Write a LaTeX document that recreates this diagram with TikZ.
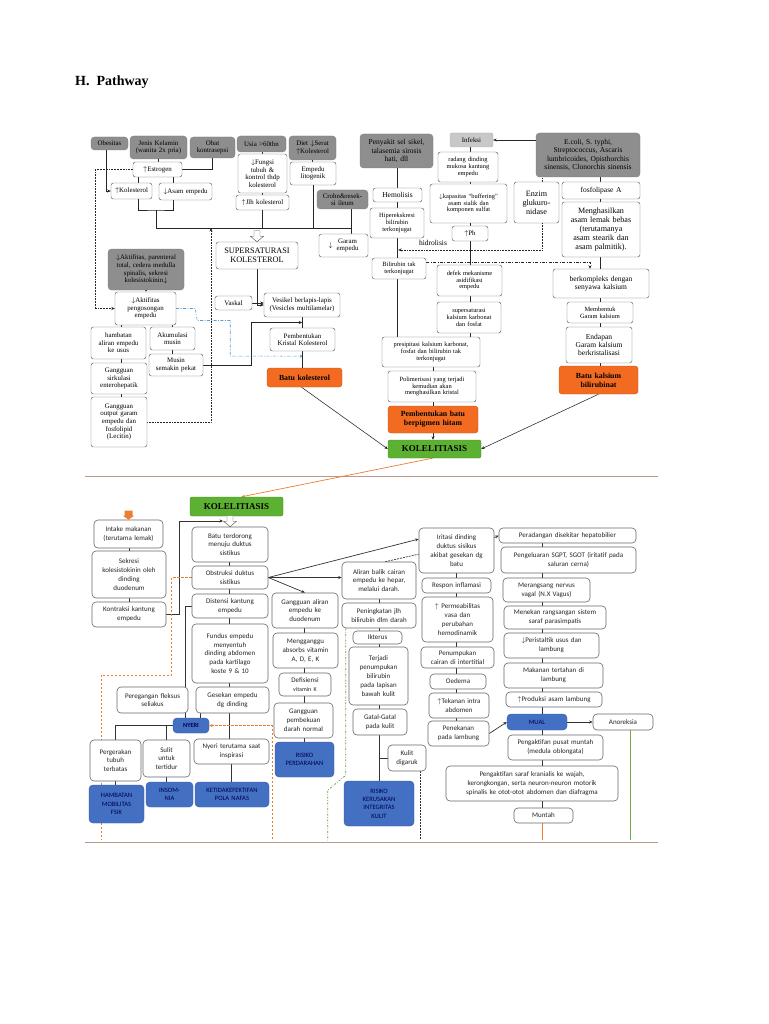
\documentclass[tikz,border=0pt]{standalone}
\usepackage{fontspec}
\setmainfont{Liberation Serif}
\newfontfamily\calib{Carlito}
\usetikzlibrary{arrows.meta,calc,backgrounds}
\definecolor{gfill}{HTML}{8E8E8E}
\definecolor{lgfill}{HTML}{C8C8C8}
\definecolor{orA}{HTML}{F26B21}
\definecolor{grA}{HTML}{5DB132}
\definecolor{blA}{HTML}{4470C4}
\definecolor{sepc}{HTML}{B89A8A}
\definecolor{dbl}{HTML}{5B9BD5}
\definecolor{ogl}{HTML}{ED7D31}
\definecolor{gnl}{HTML}{70AD47}
\newcommand\nb[7]{%
 \pgfmathsetmacro\nbW{#5-#3}\pgfmathsetmacro\nbH{#6-#4}%
 \pgfmathsetmacro\nbX{(#3+#5)/2}\pgfmathsetmacro\nbY{(#4+#6)/2}%
 \pgfmathsetmacro\nbT{#5-#3-2}%
 \node[#1, minimum width=\nbW pt, minimum height=\nbH pt, text width=\nbT pt] (#2) at (\nbX,\nbY) {#7};}
\newcommand\vc[3]{\draw[ln] (#2.south -| #1) -- (#3.north -| #1);}
\newcommand\vcb[3]{\draw[bl] (#2.south -| #1) -- (#3.north -| #1);}
\newcommand\lar[2]{\begin{tabular}{@{}c@{\hspace{4pt}}c@{}}#1&\begin{tabular}{@{}c@{}}#2\end{tabular}\end{tabular}}
\newcommand\hollow[1]{\draw[fill=white, draw=black!70, line width=0.4pt] ($(#1)+(-3,-11)$) -- ($(#1)+(3,-11)$) -- ($(#1)+(3,-5.5)$) -- ($(#1)+(6.5,-5.5)$) -- (#1) -- ($(#1)+(-6.5,-5.5)$) -- ($(#1)+(-3,-5.5)$) -- cycle;}
\tikzset{
 common/.style={align=center, inner sep=0pt},
 wb/.style={common, draw=black!60, fill=white, rounded corners=2.5pt, line width=0.45pt},
 wb2/.style={common, draw=black!60, fill=white, rounded corners=4pt, line width=0.6pt, text=black!85},
 gb/.style={common, fill=gfill, draw=gfill!85!black, line width=0.3pt, rounded corners=3.5pt},
 lg/.style={common, fill=lgfill, draw=lgfill!85!black, line width=0.3pt, rounded corners=2pt},
 ob/.style={common, fill=orA, draw=orA!80!black, line width=0.4pt, rounded corners=3pt},
 grn/.style={common, fill=grA, draw=grA!80!black, line width=0.4pt, rounded corners=2pt},
 bb/.style={common, fill=blA, draw=blA!80!black, line width=0.4pt, rounded corners=4pt, text=black!70!blue},
 tfs/.style={font=\fontsize{6.4}{6.9}\selectfont},
 tf/.style={font=\fontsize{6.9}{7.6}\selectfont},
 tfm/.style={font=\fontsize{7.5}{8.2}\selectfont},
 tfl/.style={font=\fontsize{8.1}{9}\selectfont},
 tfb/.style={font=\bfseries\fontsize{7.8}{9}\selectfont},
 tfk/.style={font=\bfseries\fontsize{9}{10}\selectfont},
 fss/.style={font=\fontsize{8.3}{9.4}\selectfont},
 bf/.style={font=\calib\fontsize{7}{8.8}\selectfont},
 bfs/.style={font=\calib\fontsize{6.6}{8.3}\selectfont},
 bfb/.style={font=\calib\bfseries\fontsize{6.3}{7}\selectfont},
 ln/.style={draw=black!85, line width=0.55pt},
 bl/.style={draw=black!80, line width=0.7pt},
 dotline/.style={ln, densely dotted, line width=0.6pt},
 blueline/.style={draw=dbl, line width=0.6pt, dash pattern=on 3pt off 1.5pt on 0.8pt off 1.5pt},
 ddline/.style={ln, dash pattern=on 3pt off 1.5pt on 0.8pt off 1.5pt},
 odash/.style={draw=ogl, line width=0.8pt, dash pattern=on 2.5pt off 1.5pt},
 oline/.style={draw=ogl, line width=0.7pt},
 gline/.style={draw=gnl, line width=0.6pt},
 gdashdot/.style={draw=gnl!90!black, line width=0.7pt, dash pattern=on 2pt off 1.5pt on 0.7pt off 1.5pt},
 bdash/.style={bl, dash pattern=on 2pt off 1pt},
 kdash/.style={bl, dash pattern=on 1.5pt off 1.5pt},
 sep/.style={draw=sepc, line width=1pt},
 >={Stealth[length=3.5pt,width=3pt]}
}
\begin{document}
\begin{tikzpicture}[x=1pt,y=-1pt]
\useasboundingbox (0,0) rectangle (768,1024);
\node[font=\bfseries\fontsize{14}{16}\selectfont, anchor=west, inner sep=0pt] (title) at (75,82) {H.\ \ Pathway};

% ---------------- TOP DIAGRAM ----------------
\nb{gb,tf}{obes}{91}{137}{128}{150}{Obesitas}
\nb{gb,tf}{jk}{130}{136}{187}{159}{Jenis Kelamin\\(wanita 2x pria)}
\nb{gb,tf}{obat}{190}{137}{235}{158}{Obat\\kontrasepsi}
\nb{wb,tf}{estr}{133}{162}{182}{177}{$\uparrow$Estrogen}
\nb{wb,tf}{kol}{111}{183}{152}{199}{$\uparrow$Kolesterol}
\nb{wb,tf}{asam}{159}{183}{212}{200}{$\downarrow$Asam empedu}
\nb{gb,tf}{usia}{237}{136}{286}{152}{Usia >60thn}
\nb{wb,tf}{fung}{238}{154}{287}{193}{$\downarrow$Fungsi\\tubuh \&\\kontrol thdp\\kolesterol}
\nb{wb,tf}{jlh}{236}{195}{289}{210}{$\uparrow$Jlh kolesterol}
\nb{gb,tf}{diet}{289}{136}{336}{160}{Diet $\downarrow$Serat\\$\uparrow$Kolesterol}
\nb{wb,tf}{emp}{290}{162}{336}{185}{Empedu\\litogenik}
\nb{gb,tf}{crohn}{317}{190}{368}{209}{Crohn\&resek-\\si ileum}
\nb{wb,tf}{garam}{319}{234}{368}{257}{\lar{$\downarrow$}{Garam\\empedu}}
\nb{wb,fss}{ss}{216}{242}{298}{269}{SUPERSATURASI\\KOLESTEROL}
\nb{gb,tf}{aktg}{108}{249}{184}{290}{$\downarrow$Aktifitas, parenteral\\total, cedera medulla\\spinalis, sekresi\\kolesistokinin$\downarrow$}
\nb{wb,tf}{aktp}{115}{292}{176}{325}{$\downarrow$Aktifitas\\pengosongan\\empedu}
\nb{wb,tf}{hamb}{91}{327}{146}{359}{hambatan\\aliran empedu\\ke usus}
\nb{wb,tf}{akum}{150}{327}{195}{350}{Akumulasi\\musin}
\nb{wb,tf}{musin}{149}{354}{203}{376}{Musin\\semakin pekat}
\nb{wb,tf}{gsir}{91}{363}{147}{394}{Gangguan\\sirkulasi\\enterohepatik}
\nb{wb,tf}{gout}{91}{397}{147}{447}{Gangguan\\output garam\\empedu dan\\fosfolipid\\(Lecitin)}
\nb{wb,tf}{vask}{215}{296}{252}{310}{Vaskal}
\nb{wb,tf}{ves}{264}{293}{340}{317}{Vesikel berlapis-lapis\\(Vesicles multilamelar)}
\nb{wb,tf}{pk}{270}{328}{335}{351}{Pembentukan\\Kristal Kolesterol}
\nb{ob,tfb}{bk}{267}{368}{342}{387}{Batu kolesterol}
\nb{gb,tfm}{peny}{360}{134}{433}{168}{Penyakit sel sikel,\\talasemia sirosis\\hati, dll}
\nb{wb,tfm}{hem}{373}{188}{422}{202}{Hemolisis}
\nb{wb,tfs}{hip}{370}{208}{424}{238}{Hiperekskresi\\bilirubin\\terkonjugat}
\nb{wb,tfs}{bil}{372}{258}{426}{279}{Bilirubin tak\\terkonjugat}
\node[tfm, inner sep=0pt] (hid) at (433,243) {hidrolisis};
\nb{lg,tf}{inf}{450}{133}{493}{147}{Infeksi}
\nb{wb,tfs}{rad}{438}{152}{498}{182}{radang dinding\\mukosa kantung\\empedu}
\nb{wb,tfs}{kap}{430}{184}{507}{223}{$\downarrow$kapasitas ``buffering''\\asam sialik dan\\komponen sulfat}
\nb{wb,tf}{ph}{452}{226}{488}{241}{$\uparrow$Ph}
\nb{gb,tfm}{eco}{536}{133}{640}{177}{E.coli, S. typhi,\\Streptococcus, Ascaris\\lumbricoides, Opisthorchis\\sinensis, Clonorchis sinensis}
\nb{wb,tfl}{enz}{514}{182}{559}{223}{Enzim\\glukuro-\\nidase}
\nb{wb,tfm}{fos}{562}{182}{640}{199}{fosfolipase A}
\nb{wb,tfl}{meng}{562}{202}{640}{257}{Menghasilkan\\asam lemak bebas\\(terutamanya\\asam stearik dan\\asam palmitik).}
\nb{wb,tfs}{def}{437}{265}{502}{296}{defek mekanisme\\asidifikasi\\empedu}
\nb{wb,tfs}{ssk}{437}{302}{501}{333}{supersaturasi\\kalsium karbonat\\dan fosfat}
\nb{wb,tfm}{berk}{553}{269}{649}{298}{berkompleks dengan\\senyawa kalsium}
\nb{wb,tfs}{memb}{567}{302}{633}{323}{Membentuk\\Garam kalsium}
\nb{wb,tfm}{endap}{566}{327}{632}{363}{Endapan\\Garam kalsium\\berkristalisasi}
\nb{ob,tfb}{bkal}{559}{366}{638}{394}{Batu kalsium\\bilirubinat}
\nb{wb,tfs}{pres}{382}{337}{480}{367}{presipitasi kalsium karbonat,\\fosfat dan bilirubin tak\\terkonjugat}
\nb{wb,tfs}{poly}{388}{371}{476}{402}{Polimerisasi yang terjadi\\kemudian akan\\menghasilkan kristal}
\nb{ob,tfb}{pbh}{388}{406}{478}{433}{Pembentukan batu\\berpigmen hitam}
\nb{grn,tfk}{kolA}{388}{440}{481}{458}{KOLELITIASIS}

% ---------------- BOTTOM DIAGRAM ----------------
\nb{grn,tfk}{kolB}{190}{497}{283}{516}{KOLELITIASIS}
\nb{wb2,bf}{intk}{94}{520}{163}{548}{Intake makanan\\(terutama lemak)}
\nb{wb2,bf}{sek}{92}{551}{166}{598}{Sekresi\\kolesistokinin oleh\\dinding\\duodenum}
\nb{wb2,bf}{kon}{92}{602}{166}{627}{Kontraksi kantung\\empedu}
\nb{wb2,bf}{batu}{192}{527}{268}{562}{Batu terdorong\\menuju duktus\\sistikus}
\nb{wb2,bf}{obs}{192}{566}{268}{589}{Obstruksi duktus\\sistikus}
\nb{wb2,bf}{dis}{192}{594}{268}{618}{Distensi kantung\\empedu}
\nb{wb2,bf}{fun}{192}{624}{268}{683}{Fundus empedu\\menyentuh\\dinding abdomen\\pada kartilago\\koste 9 \& 10}
\nb{wb2,bf}{galir}{272}{593}{338}{628}{Gangguan aliran\\empedu ke\\duodenum}
\nb{wb2,bf}{mgg}{273}{633}{338}{668}{Mengganggu\\absorbs vitamin\\A, D, E, K}
\nb{wb2,bf}{dfs}{279}{673}{331}{696}{Defisiensi\\{\fontsize{6}{7.5}\selectfont vitamin K}}
\nb{wb2,bf}{gpb}{274}{703}{333}{738}{Gangguan\\pembekuan\\darah normal}
\nb{bb,bfs}{rper}{275}{742}{334}{777}{RISIKO\\PERDARAHAN}
\nb{wb2,bf}{ali}{342}{562}{416}{599}{Aliran balik cairan\\empedu ke hepar,\\melalui darah.}
\nb{wb2,bf}{ping}{342}{603}{416}{628}{Peningkatan jlh\\bilirubin dlm darah}
\nb{wb2,bf}{ikt}{353}{631}{402}{644}{Ikterus}
\nb{wb2,bf}{terj}{349}{647}{408}{705}{Terjadi\\penumpukan\\bilirubin\\pada lapisan\\bawah kulit}
\nb{wb2,bf}{gatal}{353}{709}{407}{735}{Gatal-Gatal\\pada kulit}
\nb{wb2,bf}{kulit}{388}{745}{426}{771}{Kulit\\digaruk}
\nb{bb,bfs}{rkul}{344}{781}{414}{826}{RISIKO\\KERUSAKAN\\INTEGRITAS\\KULIT}
\nb{wb2,bf}{iri}{419}{528}{494}{573}{Iritasi dinding\\duktus sisikus\\akibat gesekan dg\\batu}
\nb{wb2,bf}{resp}{422}{578}{491}{593}{Respon inflamasi}
\nb{wb2,bf}{perm}{422}{597}{493}{642}{$\uparrow$ Permeabilitas\\vasa dan\\perubahan\\hemodinamik}
\nb{wb2,bf}{pen}{421}{647}{494}{668}{Penumpukan\\cairan di intertitial}
\nb{wb2,bf}{oed}{430}{674}{486}{689}{Oedema}
\nb{wb2,bf}{tek}{429}{693}{489}{718}{$\uparrow$Tekanan intra\\abdomen}
\nb{wb2,bf}{pnk}{428}{721}{489}{746}{Penekanan\\pada lambung}
\nb{wb2,bf}{per}{499}{528}{636}{543}{Peradangan disekitar hepatobilier}
\nb{wb2,bf}{pgl}{501}{547}{636}{573}{Pengeluaran SGPT, SGOT (iritatif pada\\saluran cerna)}
\nb{wb2,bf}{mer}{503}{578}{590}{602}{Merangsang nervus\\vagal (N.X Vagus)}
\nb{wb2,bf}{mnk}{504}{606}{606}{629}{Menekan rangsangan sistem\\saraf parasimpatis}
\nb{wb2,bf}{pers}{504}{633}{599}{658}{$\downarrow$Peristaltik usus dan\\lambung}
\nb{wb2,bf}{mak}{504}{663}{603}{688}{Makanan tertahan di\\lambung}
\nb{wb2,bf}{prod}{506}{692}{602}{707}{$\uparrow$Produksi asam lambung}
\nb{bb,bfs}{mual}{507}{714}{567}{730}{MUAL}
\nb{wb2,bf}{ano}{593}{714}{653}{730}{Anoreksia}
\nb{wb2,bf}{pus}{508}{735}{603}{760}{Pengaktifan pusat muntah\\(medula oblongata)}
\nb{wb2,bf}{sar}{446}{766}{618}{801}{Pengaktifan saraf kranialis ke wajah,\\kerongkongan, serta neuron-neuron motorik\\spinalis ke otot-otot abdomen dan diafragma}
\nb{wb2,bf}{mun}{514}{808}{573}{823}{Muntah}
\nb{wb2,bf}{ges}{196}{687}{269}{713}{Gesekan empedu\\dg dinding}
\nb{wb2,bf}{pere}{117}{687}{188}{713}{Peregangan fleksus\\seliakus}
\nb{bb,bfb}{nyeri}{173}{718}{209}{733}{NYERI}
\nb{wb2,bf}{perg}{90}{740}{141}{781}{Pergerakan\\tubuh\\terbatas}
\nb{wb2,bf}{sul}{143}{740}{190}{777}{Sulit\\untuk\\tertidur}
\nb{wb2,bf}{nins}{194}{739}{269}{764}{Nyeri terutama saat\\inspirasi}
\nb{bb,bfs}{ham}{89}{785}{144}{823}{HAMBATAN\\MOBILITAS\\FSIK}
\nb{bb,bfs}{ins}{146}{782}{193}{807}{INSOM-\\NIA}
\nb{bb,bfs}{ket}{195}{782}{269}{807}{KETIDAKEFEKTIFAN\\POLA NAFAS}

% ---------------- CONNECTORS ----------------
\begin{pgfonlayer}{background}
\fill[white] (0,0) rectangle (768,1024);
\coordinate (xA) at (542,0);
\coordinate (xB) at (456,0);
\coordinate (xC) at (379,0);
\coordinate (xD) at (304,0);
\coordinate (xE) at (229,0);
\coordinate (xF) at (129,0);
\coordinate (xG) at (470,0);
\coordinate (xH) at (397,0);
\coordinate (xI) at (600,0);
\coordinate (xJ) at (302,0);
\coordinate (xK) at (262,0);
\coordinate (xL) at (121,0);
\coordinate (xM) at (172,0);
\coordinate (xO) at (433,0);
\coordinate (d1) at (95,0);
\coordinate (j1) at (156,210);
\coordinate (m1) at (156,228);
\coordinate (m2) at (351,228);
\coordinate (m3) at (211,228);
\coordinate (ob1) at (272,840);
\coordinate (ob2) at (101,840);
\coordinate (gb) at (630,840);
\coordinate (ha) at (223,521);
\coordinate (sa) at (85,476);
\coordinate (sb) at (658,476);
\coordinate (sc) at (85,842);
\coordinate (sd) at (658,842);
\draw[sep] (sa) -- (sb);
\draw[sep] (sc) -- (sd);

% top
\draw[ln,->] ([xshift=-3pt]obes.south) |- (kol.west);
\draw[ln] (jk.south) -- (jk.south |- estr.north);
\draw[ln] (obat.south) |- (estr.east);
\draw[ln] ([xshift=-19pt]estr.south) -- ([xshift=-19pt]estr.south |- kol.north);
\draw[ln] ([xshift=16pt]estr.south) -- ([xshift=16pt]estr.south |- asam.north);
\draw[ln] ([xshift=6.5pt]kol.south) |- (j1) -| ([xshift=-12.5pt]asam.south);
\draw[ln] (j1) -- (m1) -- (m2);
\vc{xK}{usia}{fung}
\vc{xK}{fung}{jlh}
\draw[ln] (jlh.south -| xK) -- (m1 -| xK);
\draw[ln] (diet.south) -- (diet.south |- emp.north);
\draw[ln] (emp.south) -- (emp.south |- m1);
\draw[ln] (crohn.south -| m2) -- (garam.north -| m2);
\draw[dotline,->] (estr.west) -- (estr.west -| d1) |- (aktp.west);
\draw[ln,->] (aktg.south) -- (aktg.south |- aktp.north);
\vc{xL}{aktp}{hamb}
\vc{xL}{hamb}{gsir}
\vc{xL}{gsir}{gout}
\vc{xM}{aktp}{akum}
\vc{xM}{akum}{musin}
\coordinate (vp) at ($(ves.south)!0.5!(pk.north)$);
\draw[ln,->] (musin.east) -- ++(48,0) |- (vp);
\coordinate (pb) at ($(pk.south)!0.3!(bk.north)$);
\draw[blueline,->] (aktp.east) -- ++(19,0) -- ++(2,12) -- ++(33,0) |- (pb);
\draw[dotline,->] (gout.east) -| (m3);
\draw[ln,->] (ss.south) |- (ves.west);
\draw[ln,->] (vask.east) -- (vask.east -| ves.west);
\vc{xJ}{ves}{pk}
\vc{xJ}{pk}{bk}
\draw[ln,->] ([xshift=-3pt]bk.south) -- (kolA.west);
\vc{xH}{peny}{hem}
\vc{xH}{hem}{hip}
\vc{xH}{hip}{bil}
\vc{xH}{bil}{pres}
\draw[ln,->] (eco.west |- inf.east) -- (inf.east);
\vc{xG}{inf}{rad}
\vc{xG}{rad}{kap}
\vc{xG}{kap}{ph}
\vc{xG}{ph}{def}
\vc{xG}{def}{ssk}
\vc{xG}{ssk}{pres}
\draw[dotline] ([xshift=5.5pt]enz.north) -- ([xshift=5.5pt]enz.north |- eco.south);
\coordinate (hb) at ($(hip.south)!0.6!(bil.north)$);
\draw[dotline,->] ([xshift=5.5pt]enz.south) |- (hb);
\draw[ddline,->] ([yshift=6.5pt]bil.east) -| ([xshift=-11pt]berk.north);
\vc{xI}{eco}{fos}
\vc{xI}{fos}{meng}
\vc{xI}{meng}{berk}
\vc{xI}{berk}{memb}
\vc{xI}{memb}{endap}
\vc{xI}{endap}{bkal}
\draw[ln,->] (bkal.south) -- (kolA.east);
\vc{xO}{pres}{poly}
\vc{xO}{poly}{pbh}
\draw[ln,->] (pbh.south -| xO) -- (kolA.north -| xO);
\draw[oline,->] ([xshift=-2pt]kolA.south) -- ([xshift=5pt]kolB.north);

% bottom
\vcb{xF}{intk}{sek}
\vcb{xF}{sek}{kon}
\draw[bl,line width=1pt,->] (kon.east) -- ++(13,0) |- (ha);
\vcb{xE}{batu}{obs}
\vcb{xE}{obs}{dis}
\vcb{xE}{dis}{fun}
\vcb{xE}{fun}{ges}
\vcb{xE}{ges}{nins}
\draw[bl] ([xshift=5pt]ges.south west) -- ([xshift=5pt]ges.south west |- nyeri.north);
\draw[bl] (dis.west) -| ([xshift=-3pt]pere.north east);
\draw[bl] ([xshift=-3pt]pere.south east) -- ([xshift=-3pt]pere.south east |- nyeri.north);
\draw[bl] (nyeri.west) -| (perg.north);
\draw[bl] (sul.north) -- (sul.north |- nyeri.west);
\draw[bl] (perg.south) -- (perg.south |- ham.north);
\draw[bl] (sul.south) -- (sul.south |- ins.north);
\draw[bl] (nins.south) -- (nins.south |- ket.north);
\draw[odash,<-] (nyeri.east) -| (ob1);
\draw[odash] (obs.west) -- ++(-20,0) -- ++(0,97.5) -| (ob2);
\draw[bl,->] (obs.east) -- (galir.north);
\draw[bl,->] (obs.east) -- (obs.east -| ali.west);
\draw[bl,->] (obs.east) -- ($(iri.north west)!0.25!(iri.south west)$);
\draw[bdash] ([xshift=-31pt]ali.north east) -- ($(iri.north west)!0.58!(iri.south west)$);
\draw[bdash,->] ($(iri.north east)!0.22!(iri.south east)$) -- (per.west);
\vcb{xA}{per}{pgl}
\vcb{xA}{pgl}{mer}
\vcb{xA}{mer}{mnk}
\vcb{xA}{mnk}{pers}
\vcb{xA}{pers}{mak}
\vcb{xA}{mak}{prod}
\vcb{xA}{prod}{mual}
\vcb{xA}{mual}{pus}
\vcb{xA}{pus}{sar}
\vcb{xA}{sar}{mun}
\draw[bl,->] (mual.east) -- (ano.west);
\draw[gline] (ano.south -| gb) -- (gb);
\draw[oline] (mun.south -| xA) -- (ob1 -| xA);
\vcb{xB}{iri}{resp}
\vcb{xB}{resp}{perm}
\vcb{xB}{perm}{pen}
\vcb{xB}{pen}{oed}
\vcb{xB}{oed}{tek}
\vcb{xB}{tek}{pnk}
\draw[bl,->] (pnk.east) -- (mual.west);
\vcb{xD}{galir}{mgg}
\vcb{xD}{mgg}{dfs}
\vcb{xD}{dfs}{gpb}
\vcb{xD}{gpb}{rper}
\vcb{xC}{ali}{ping}
\vcb{xC}{ping}{ikt}
\vcb{xC}{ikt}{terj}
\vcb{xC}{terj}{gatal}
\vcb{xC}{gatal}{rkul}
\draw[bl] (kulit.west) -- (kulit.west -| xC);
\draw[kdash] ([xshift=13pt]kulit.south) -- ([xshift=13pt]kulit.south |- ob1);
\draw[gdashdot] ([xshift=4pt]ping.south west) -- ++(0,147) -- ++(-18,15) -- ++(0,50);
\end{pgfonlayer}

% hollow arrows and block arrow
\hollow{ss.north}
\hollow{batu.north}
\fill[ogl] ($(intk.north)+(-4,-9)$) -- ($(intk.north)+(4,-9)$) -- ($(intk.north)+(4,-4)$) -- ($(intk.north)+(5.5,-4)$) -- (intk.north) -- ($(intk.north)+(-5.5,-4)$) -- ($(intk.north)+(-4,-4)$) -- cycle;
\end{tikzpicture}
\end{document}
